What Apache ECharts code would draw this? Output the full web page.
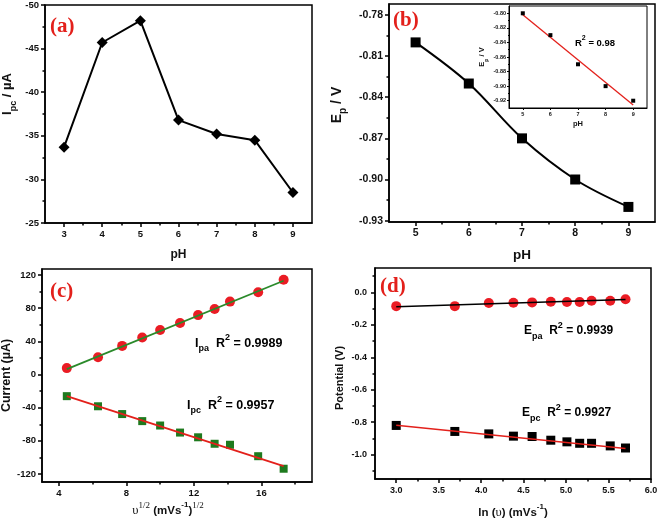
<!DOCTYPE html>
<html><head><meta charset="utf-8">
<script src="https://cdn.jsdelivr.net/npm/echarts@6/dist/echarts.min.js"></script>
<style>html,body{margin:0;padding:0;background:#fff}#c{width:657px;height:523px}</style>
</head><body><div id="c"></div>
<script>
// ---------- data ----------
const phA = [3, 4, 5, 6, 7, 8, 9];
const ipcA = [-33.7, -45.7, -48.2, -36.8, -35.2, -34.5, -28.5];

const phB = [5, 6, 7, 8, 9];
const epB = [-0.80, -0.83, -0.87, -0.90, -0.92];
const insetFitX = [5, 9];
const insetFitY = [-0.802, -0.926];

const sqrtRate = [4.47, 6.32, 7.75, 8.94, 10.0, 11.18, 12.25, 13.23, 14.14, 15.81, 17.32];
const ipaC = [7.7, 20.7, 34.5, 44.7, 53.7, 62.2, 71.6, 78.9, 87.9, 99.2, 114.3];
const ipcC = [-26.1, -38.3, -47.7, -56.2, -61.5, -70.0, -75.7, -83.5, -84.7, -98.5, -113.6];
const fitXC = [4.47, 17.32];
const ipaFitC = [6.5, 113.0];
const ipcFitC = [-26.0, -110.5];

const lnRate = [3.0, 3.69, 4.09, 4.38, 4.6, 4.82, 5.01, 5.16, 5.3, 5.52, 5.7];
const epaD = [-0.085, -0.085, -0.066, -0.064, -0.062, -0.058, -0.06, -0.06, -0.052, -0.052, -0.043];
const epcD = [-0.82, -0.857, -0.872, -0.886, -0.888, -0.911, -0.921, -0.93, -0.93, -0.946, -0.959];
const fitXD = [3.0, 5.7];
const epaFitD = [-0.088, -0.044];
const epcFitD = [-0.819, -0.962];

// tick labels
const ticksAx = [3, 4, 5, 6, 7, 8, 9], minorAx = [3.5, 4.5, 5.5, 6.5, 7.5, 8.5];
const ticksAy = [-50, -45, -40, -35, -30, -25], minorAy = [-47.5, -42.5, -37.5, -32.5, -27.5];
const ticksBx = [5, 6, 7, 8, 9], minorBx = [5.5, 6.5, 7.5, 8.5];
const ticksBy = [-0.93, -0.90, -0.87, -0.84, -0.81, -0.78], minorBy = [-0.915, -0.885, -0.855, -0.825, -0.795];
const ticksIx = [5, 6, 7, 8, 9], minorIx = [5.5, 6.5, 7.5, 8.5];
const ticksIy = [-0.92, -0.90, -0.88, -0.86, -0.84, -0.82, -0.80], minorIy = [-0.91, -0.89, -0.87, -0.85, -0.83, -0.81];
const ticksCx = [4, 8, 12, 16], minorCx = [6, 10, 14, 18];
const ticksCy = [-120, -80, -40, 0, 40, 80, 120], minorCy = [-100, -60, -20, 20, 60, 100];
const ticksDx = [3.0, 3.5, 4.0, 4.5, 5.0, 5.5, 6.0], minorDx = [3.25, 3.75, 4.25, 4.75, 5.25, 5.75];
const ticksDy = [-1.0, -0.8, -0.6, -0.4, -0.2, 0.0], minorDy = [-1.1, -0.9, -0.7, -0.5, -0.3, -0.1, 0.1];

// ---------- helpers ----------
const SANS = '"Liberation Sans", Arial, sans-serif';
const SERIF = '"Liberation Serif", "Times New Roman", serif';
const pairs = (xs, ys) => xs.map((x, i) => [x, ys[i]]);

const grids = [
  {left: 45, top: 5, width: 267, height: 218},     // a
  {left: 389, top: 4, width: 266, height: 218},    // b
  {left: 42, top: 269, width: 270, height: 213},   // c
  {left: 375, top: 268, width: 276, height: 211},  // d
  {left: 509, top: 6, width: 138, height: 102}     // inset
].map((g, i) => Object.assign({show: true, borderColor: '#000', borderWidth: i === 4 ? 1 : 1.5,
  backgroundColor: i === 4 ? '#fff' : 'transparent', containLabel: false, outerBoundsMode: 'none'}, g));

const xAxes = [], yAxes = [];
function addAxes(gi, o) {
  const g = grids[gi];
  const lw = o.lw || 1.5;
  const mk = (dim, a) => {
    const main = {
      type: 'value', gridIndex: gi, min: a.min, max: a.max, inverse: !!a.inverse,
      position: dim === 'x' ? 'bottom' : 'left',
      axisLine: {show: true, onZero: false, lineStyle: {color: '#000', width: lw}},
      axisTick: {show: true, customValues: a.major, length: o.tl || 4, lineStyle: {color: '#000', width: lw}},
      axisLabel: {show: true, customValues: a.major, formatter: a.fmt || (v => String(v)),
        fontSize: o.fs, fontWeight: 'bold', color: '#111', fontFamily: SANS, margin: a.margin || 6,
        showMinLabel: true, showMaxLabel: true, hideOverlap: false},
      splitLine: {show: false},
      name: a.name, nameLocation: 'middle', nameGap: a.nameGap, nameTextStyle: a.nameStyle
    };
    const minor = {
      type: 'value', gridIndex: gi, min: a.min, max: a.max, inverse: !!a.inverse,
      position: dim === 'x' ? 'top' : 'right',
      offset: dim === 'x' ? -g.height : -g.width,
      axisLine: {show: false, onZero: false},
      axisTick: {show: true, inside: true, customValues: a.minor, length: o.mtl || 2.5, lineStyle: {color: '#000', width: lw}},
      axisLabel: {show: false},
      splitLine: {show: false}
    };
    return [main, minor];
  };
  const [xm, xn] = mk('x', o.x);
  const [ym, yn] = mk('y', o.y);
  const xi = xAxes.length; xAxes.push(xm, xn);
  const yi = yAxes.length; yAxes.push(ym, yn);
  return {xi, yi};
}

const subRich = (fs) => ({
  m: {fontSize: fs, fontWeight: 'bold', fontFamily: SANS, color: '#111', lineHeight: fs + 8, verticalAlign: 'middle'},
  s: {fontSize: Math.round(fs * 0.72), fontWeight: 'bold', fontFamily: SANS, color: '#111', lineHeight: Math.round(fs * 0.72) + 1, verticalAlign: 'bottom'},
  p: {fontSize: Math.round(fs * 0.72), fontWeight: 'bold', fontFamily: SANS, color: '#111', lineHeight: Math.round(fs * 0.72) + 1, verticalAlign: 'top'},
  g: {fontSize: fs + 1, fontFamily: SERIF, color: '#111', lineHeight: fs + 8, verticalAlign: 'middle'},
  gp: {fontSize: Math.round(fs * 0.8), fontFamily: SERIF, color: '#111', lineHeight: Math.round(fs * 0.8) + 1, verticalAlign: 'top'}
});

const A = addAxes(0, {fs: 9.5,
  x: {min: 2.5, max: 9.5, major: ticksAx, minor: minorAx, name: 'pH', nameGap: 26,
      nameStyle: {fontSize: 12, fontWeight: 'bold', fontFamily: SANS, color: '#111'}},
  y: {min: -50, max: -25, inverse: true, major: ticksAy, minor: minorAy, name: '{m|I}{s|pc}{m| / µA}', nameGap: 27,
      nameStyle: {rich: subRich(13), padding: [0, 0, 0, 40]}}
});
const B = addAxes(1, {fs: 10.5,
  x: {min: 4.5, max: 9.5, major: ticksBx, minor: minorBx, name: 'pH', nameGap: 26,
      nameStyle: {fontSize: 13.5, fontWeight: 'bold', fontFamily: SANS, color: '#111'}},
  y: {min: -0.931, max: -0.772, major: ticksBy, minor: minorBy, fmt: v => v.toFixed(2), name: '{m|E}{s|p}{m| / V}', nameGap: 41,
      nameStyle: {rich: subRich(14), padding: [0, 0, 0, 16]}}
});
const C = addAxes(2, {fs: 9.5,
  x: {min: 3, max: 19, major: ticksCx, minor: minorCx, name: '{g|υ}{gp|1/2}{m| (mVs}{p|-1}{m|)}{gp|1/2}', nameGap: 19,
      nameStyle: {rich: subRich(11.5), padding: [0, 18, 0, 0]}},
  y: {min: -129.6, max: 127.2, major: ticksCy, minor: minorCy, name: 'Current (µA)', nameGap: 29,
      nameStyle: {fontSize: 12.5, fontWeight: 'bold', fontFamily: SANS, color: '#111'}}
});
const D = addAxes(3, {fs: 9,
  x: {min: 2.75, max: 6.0, major: ticksDx, minor: minorDx, fmt: v => v.toFixed(1), name: '{m|ln (}{g|υ}{m|) (mVs}{p|-1}{m|)}', nameGap: 24, margin: 7,
      nameStyle: {rich: subRich(11.5)}},
  y: {min: -1.15, max: 0.15, major: ticksDy, minor: minorDy, fmt: v => (Math.abs(v) < 1e-9 ? 0 : v).toFixed(1), name: 'Potential (V)', nameGap: 30, margin: 8,
      nameStyle: {fontSize: 11, fontWeight: 'bold', fontFamily: SANS, color: '#111', padding: [0, 9, 0, 0]}}
});
const I = addAxes(4, {fs: 5.5, tl: 2, mtl: 1, lw: 1,
  x: {min: 4.5, max: 9.5, major: ticksIx, minor: minorIx, margin: 3, name: 'pH', nameGap: 12,
      nameStyle: {fontSize: 7.5, fontWeight: 'bold', fontFamily: SANS, color: '#111'}},
  y: {min: -0.93, max: -0.79, major: ticksIy, minor: minorIy, fmt: v => v.toFixed(2), margin: 3, name: '{m|E}{s|p}{m| / V}', nameGap: 19,
      nameStyle: {rich: subRich(7.5)}}
});

const series = [
  {type: 'line', xAxisIndex: A.xi, yAxisIndex: A.yi, data: pairs(phA, ipcA), symbol: 'diamond', symbolSize: 11,
   itemStyle: {color: '#000'}, lineStyle: {color: '#000', width: 2}},
  {type: 'line', xAxisIndex: B.xi, yAxisIndex: B.yi, data: pairs(phB, epB), smooth: 0.35, symbol: 'rect', symbolSize: 10,
   itemStyle: {color: '#000'}, lineStyle: {color: '#000', width: 2}},
  {type: 'line', xAxisIndex: I.xi, yAxisIndex: I.yi, data: pairs(insetFitX, insetFitY), symbol: 'none',
   lineStyle: {color: '#e3201b', width: 1.3}, z: 5},
  {type: 'scatter', xAxisIndex: I.xi, yAxisIndex: I.yi, data: pairs(phB, epB), symbol: 'rect', symbolSize: 4,
   itemStyle: {color: '#000', opacity: 1}, z: 6},
  {type: 'line', xAxisIndex: C.xi, yAxisIndex: C.yi, data: pairs(fitXC, ipaFitC), symbol: 'none', lineStyle: {color: '#2a8a2a', width: 1.8}},
  {type: 'line', xAxisIndex: C.xi, yAxisIndex: C.yi, data: pairs(fitXC, ipcFitC), symbol: 'none', lineStyle: {color: '#e3201b', width: 1.8}},
  {type: 'scatter', xAxisIndex: C.xi, yAxisIndex: C.yi, data: pairs(sqrtRate, ipaC), symbol: 'circle', symbolSize: 10,
   itemStyle: {color: '#ea1c24', opacity: 1}},
  {type: 'scatter', xAxisIndex: C.xi, yAxisIndex: C.yi, data: pairs(sqrtRate, ipcC), symbol: 'rect', symbolSize: 8,
   itemStyle: {color: '#1e7a1e', opacity: 1}},
  {type: 'line', xAxisIndex: D.xi, yAxisIndex: D.yi, data: pairs(fitXD, epaFitD), symbol: 'none', lineStyle: {color: '#000', width: 1.5}},
  {type: 'line', xAxisIndex: D.xi, yAxisIndex: D.yi, data: pairs(fitXD, epcFitD), symbol: 'none', lineStyle: {color: '#e3201b', width: 1.5}},
  {type: 'scatter', xAxisIndex: D.xi, yAxisIndex: D.yi, data: pairs(lnRate, epaD), symbol: 'circle', symbolSize: 10,
   itemStyle: {color: '#ea1c24', opacity: 1}},
  {type: 'scatter', xAxisIndex: D.xi, yAxisIndex: D.yi, data: pairs(lnRate, epcD), symbol: 'rect', symbolSize: 9,
   itemStyle: {color: '#000', opacity: 1}}
];

const panelLabel = (t, l, tp) => ({type: 'text', left: l, top: tp, z: 100,
  style: {text: t, font: 'bold 21px ' + SERIF, fill: '#e3201b'}});
const r2 = (a, b, val, l, tp, fs) => ({type: 'text', left: l, top: tp, z: 100,
  style: {text: '{m|' + a + '}{s|' + b + '}{m|  R}{p|2}{m| = ' + val + '}', rich: subRich(fs)}});

const graphic = [
  panelLabel('(a)', 50, 16),
  panelLabel('(b)', 393, 10),
  panelLabel('(c)', 50, 281),
  panelLabel('(d)', 380, 276),
  r2('I', 'pa', '0.9989', 195, 333, 12.5),
  r2('I', 'pc', '0.9957', 187, 395, 12.5),
  r2('E', 'pa', '0.9939', 524, 321, 12),
  r2('E', 'pc', '0.9927', 522, 403, 12),
  {type: 'text', left: 575, top: 35, z: 100, style: {text: '{m|R}{p|2}{m| = 0.98}', rich: subRich(9.5)}}
];

const chart = echarts.init(document.getElementById('c'), null, {renderer: 'canvas'});
chart.setOption({
  animation: false,
  backgroundColor: '#fff',
  grid: grids,
  xAxis: xAxes,
  yAxis: yAxes,
  series: series,
  graphic: graphic
});
</script>
</body></html>
